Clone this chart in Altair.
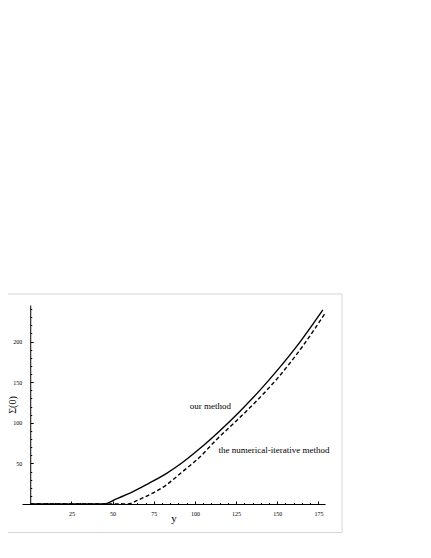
import altair as alt
import pandas as pd

# "our method" curve
ours_x = [0, 44.6, 52, 62.4, 72, 82.6, 92, 102.8, 115, 127.1, 139, 151, 164, 177.7]
ours_y = [0, 0, 6, 15.2, 25.5, 37.5, 50.5, 68, 90, 113.7, 139, 167, 200, 239]

# "the numerical-iterative method" curve
iter_x = [0, 59.4, 65, 72, 82.6, 92, 102.8, 113, 125, 138, 151, 165, 179.1]
iter_y = [0, 0, 4.5, 11, 23.4, 39, 57.5, 79, 102, 128, 156.8, 193, 235]

# tick values
x_major = [25, 50, 75, 100, 125, 150, 175]
x_minor = [v for v in range(5, 180, 5) if v % 25]
y_major = [50, 100, 150, 200]
y_minor = [v for v in range(10, 250, 10) if v % 50]

# annotations
label_text = ["our method", "the numerical-iterative method"]
label_x = [96.8, 114.4]
label_y = [121, 66.5]

x_dom = [-5, 179]
y_dom = [0, 245]
W, H = 303, 199
x0px = (0 - x_dom[0]) / (x_dom[1] - x_dom[0]) * W

FONT = "Liberation Serif"

ours = pd.DataFrame({"x": ours_x, "y": ours_y})
itr = pd.DataFrame({"x": iter_x, "y": iter_y})
labels = pd.DataFrame({"x": label_x, "y": label_y, "t": label_text})
frame = pd.DataFrame({"a": [0]})

xs = alt.Scale(domain=x_dom, nice=False, zero=False)
ys = alt.Scale(domain=y_dom, nice=False, zero=False)

line_ours = alt.Chart(ours).mark_line(color="black", strokeWidth=1.4, interpolate="monotone").encode(
    x=alt.X("x:Q", scale=xs, axis=alt.Axis(
        orient="bottom", values=x_major, ticks=False, domain=False, grid=False,
        labelPadding=6, labelFontSize=6, format="d",
        title="y", titleFontSize=11, titleY=17.5, titleBaseline="alphabetic")),
    y=alt.Y("y:Q", scale=ys, axis=alt.Axis(
        orient="left", offset=-x0px, values=y_major, ticks=False, domain=False, grid=False,
        labelPadding=8.5, labelFontSize=6, format="d",
        title="Σ(0)", titleFontSize=10, titleX=-17.5, titleBaseline="middle", titleAngle=270)),
    order="x:Q",
)

line_iter = alt.Chart(itr).mark_line(color="black", strokeWidth=1.4, strokeDash=[4, 2.5],
                                     interpolate="monotone").encode(
    x=alt.X("x:Q", scale=xs, axis=alt.Axis(
        orient="top", offset=-H, values=x_major, labels=False, ticks=True, tickSize=3,
        domain=True, grid=False, title="")),
    y=alt.Y("y:Q", scale=ys, axis=alt.Axis(
        orient="right", offset=-(W - x0px), values=y_major, labels=False, ticks=True, tickSize=3,
        domain=True, grid=False, title="")),
    order="x:Q",
)

text = alt.Chart(labels).mark_text(
    font=FONT, fontSize=9, align="left", baseline="middle", color="black"
).encode(
    x=alt.X("x:Q", scale=xs, axis=alt.Axis(
        orient="top", offset=-H, values=x_minor, labels=False, ticks=True, tickSize=1.5,
        domain=False, grid=False, title="")),
    y=alt.Y("y:Q", scale=ys, axis=alt.Axis(
        orient="right", offset=-(W - x0px), values=y_minor, labels=False, ticks=True, tickSize=1.5,
        domain=False, grid=False, title="")),
    text="t:N",
)

border = alt.Chart(frame).mark_rect(filled=False, stroke="#d6d6d6", strokeWidth=1).encode(
    x=alt.value(-30), x2=alt.value(320), y=alt.value(-11), y2=alt.value(227.5)
)

chart = alt.layer(border, line_ours, line_iter, text).resolve_axis(
    x="independent", y="independent"
).properties(
    width=W, height=H,
    padding={"left": 14, "top": 297, "right": 30, "bottom": 35},
    autosize=alt.AutoSizeParams(type="none"),
).configure_view(stroke=None).configure_axis(
    labelFont=FONT, titleFont=FONT, labelColor="black", titleColor="black",
    domainColor="black", tickColor="black", titleFontWeight="normal",
    domainWidth=1, tickWidth=1,
)

chart.save("out.html", embed_options={"renderer": "svg", "actions": False})
